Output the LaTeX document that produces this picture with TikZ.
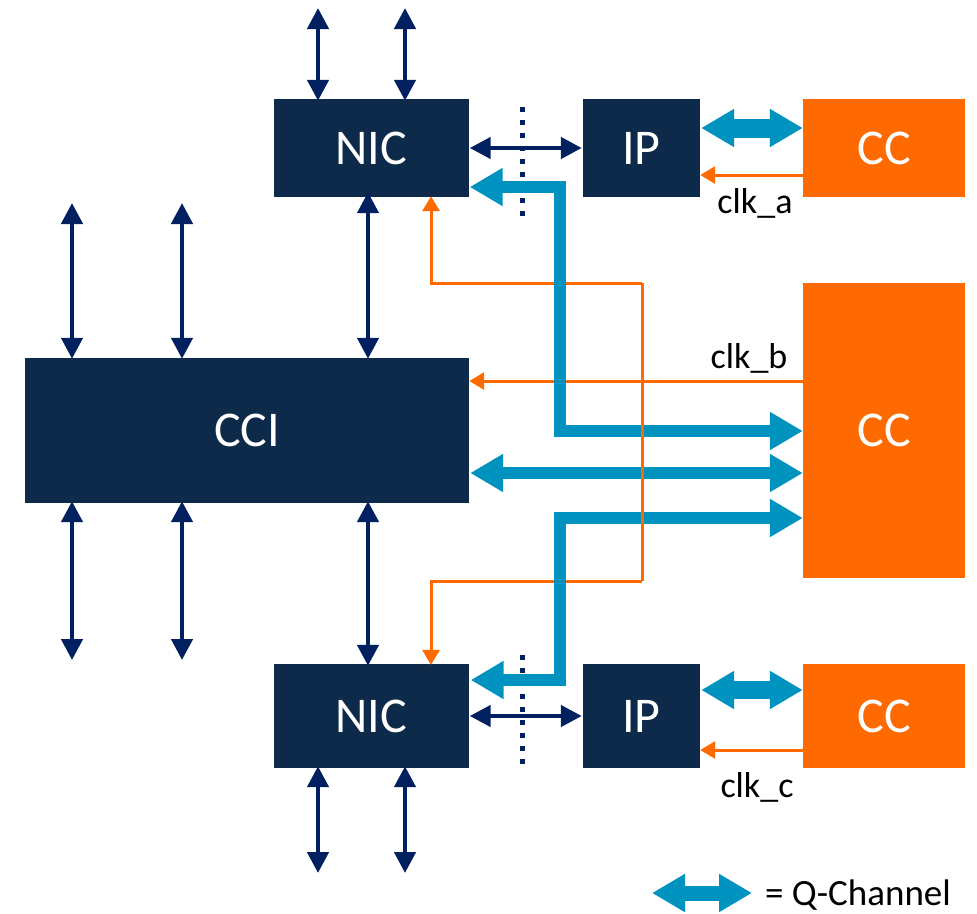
\documentclass[tikz,border=0pt]{standalone}
\usepackage{fontspec}
\setmainfont{Carlito}
\usetikzlibrary{arrows.meta}
\definecolor{boxnavy}{HTML}{0D2A4A}
\definecolor{linknavy}{HTML}{002060}
\definecolor{qblue}{HTML}{0093C0}
\definecolor{ccorange}{HTML}{FF6A00}
\tikzset{
  blk/.style={fill=boxnavy, text=white, font=\fontsize{50}{60}\selectfont,
    inner sep=0pt, minimum width=#1},
  ccblk/.style={fill=ccorange, text=white, font=\fontsize{50}{60}\selectfont,
    inner sep=0pt, minimum width=162pt},
  lbl/.style={text=black, font=\fontsize{36}{43}\selectfont, inner sep=0pt},
  navtip/.tip={Triangle[length=21pt,width=21pt]},
  nav/.style={draw=linknavy, line width=4.5pt, navtip-navtip},
  qtip/.tip={Triangle[length=33pt,width=36pt]},
  qshort/.style={draw=qblue, line width=#1, qtip-qtip},
  qlong/.style={draw=qblue, line width=12pt, qtip-qtip, line join=miter},
  clkline/.style={draw=ccorange, line width=3pt},
  clk/.style={clkline, -{Triangle[length=15pt,width=17pt]}},
  sep/.style={draw=linknavy, line width=5pt, dash pattern=on 5pt off 8pt},
}
\begin{document}
\begin{tikzpicture}[x=1pt,y=-1pt]
\useasboundingbox (0,0) rectangle (977,913);

% blocks
\node[blk=195pt, minimum height=98pt]  (nic1) at (371,148)   {NIC};
\node[blk=117pt, minimum height=98pt]  (ip1)  at (641.5,148) {IP};
\node[ccblk, minimum height=98pt]      (cc1)  at (884,148)   {CC};
\node[blk=444pt, minimum height=145pt] (cci)  at (247,430.5) {CCI};
\node[ccblk, minimum height=295pt]     (cc2)  at (884,430.5) {CC};
\node[blk=195pt, minimum height=104pt] (nic2) at (371,716)   {NIC};
\node[blk=117pt, minimum height=104pt] (ip2)  at (641.5,716) {IP};
\node[ccblk, minimum height=104pt]     (cc3)  at (884,716)   {CC};

% outer ends of the network links
\coordinate (nt1) at (318,8);
\coordinate (nt2) at (405,8);
\coordinate (ct1) at (72,203);
\coordinate (ct2) at (182,203);
\coordinate (cb1) at (72,660);
\coordinate (cb2) at (182,660);
\coordinate (nb1) at (318,873);
\coordinate (nb2) at (405,873);
\coordinate (mx) at (368,0);

% clock distribution (horizontal runs, under the Q-Channels)
\coordinate (bt) at (642,283);
\coordinate (bb) at (642,581);
\coordinate (lt) at (431,283);
\coordinate (lb) at (431,581);
\draw[clk] (cc1.west |- 0,175) -- (ip1.east |- 0,175);
\draw[clk] (cc2.west |- 0,381) -- (cci.east |- 0,381);
\draw[clk] (bt) -- (lt) -- ([yshift=1pt]nic1.south -| lt);
\draw[clk] (bb) -- (lb) -- ([yshift=-1pt]nic2.north -| lb);
\draw[clk] (cc3.west |- 0,750) -- (ip2.east |- 0,750);

% network links
\draw[nav] (nt1) -- ([yshift=-2pt]nic1.north -| nt1);
\draw[nav] (nt2) -- ([yshift=-2pt]nic1.north -| nt2);
\draw[nav] (ct1) -- ([yshift=-1pt]cci.north -| ct1);
\draw[nav] (ct2) -- ([yshift=-1pt]cci.north -| ct2);
\draw[nav] ([yshift=5pt]nic1.south -| mx) -- ([yshift=-1pt]cci.north -| mx);
\draw[nav] ([yshift=2pt]cci.south -| ct1) -- (cb1);
\draw[nav] ([yshift=2pt]cci.south -| ct2) -- (cb2);
\draw[nav] ([yshift=2pt]cci.south -| mx) -- ([yshift=-2pt]nic2.north -| mx);
\draw[nav] ([yshift=2pt]nic2.south -| nb1) -- (nb1);
\draw[nav] ([yshift=2pt]nic2.south -| nb2) -- (nb2);

% isolation boundaries
\coordinate (s1a) at (522,107);
\coordinate (s1b) at (522,216);
\coordinate (s2a) at (522,655);
\coordinate (s2b) at (522,764);
\draw[sep] (s1a) -- (s1b);
\draw[sep] (s2a) -- (s2b);

\draw[nav] ([xshift=1pt]nic1.east) -- ([xshift=-1pt]ip1.west);
\draw[nav] ([xshift=1pt]nic2.east) -- ([xshift=-1pt]ip2.west);

% Q-Channels
\draw[qshort=19pt] ([xshift=1pt]ip1.east |- 0,128) -- (cc1.west |- 0,128);
\draw[qshort=18pt] ([xshift=1pt]ip2.east |- 0,690) -- (cc3.west |- 0,690);
\coordinate (qv) at (560,0);
\draw[qlong] ([xshift=1pt]nic1.east |- 0,187) -- (qv |- 0,187)
  -- (qv |- 0,431) -- (cc2.west |- 0,431);
\draw[qlong] ([xshift=1pt]cci.east |- 0,473) -- (cc2.west |- 0,473);
\draw[qlong] (cc2.west |- 0,518) -- (qv |- 0,518)
  -- (qv |- 0,680) -- ([xshift=2pt]nic2.east |- 0,680);

% clock trunk, over the Q-Channels
\draw[clkline] (bt) -- (bb);

% labels
\node[lbl, anchor=base] (la) at (755,213) {clk\_a};
\node[lbl, anchor=base] (lbb) at (749,368) {clk\_b};
\node[lbl, anchor=base] (lc) at (757,797) {clk\_c};

% legend
\coordinate (kg1) at (652,893);
\coordinate (kg2) at (752,893);
\draw[qshort=15pt] (kg1) -- (kg2);
\node[lbl, anchor=base west, font=\fontsize{37}{44}\selectfont] (key) at (765,905) {= Q-Channel};
\end{tikzpicture}
\end{document}
